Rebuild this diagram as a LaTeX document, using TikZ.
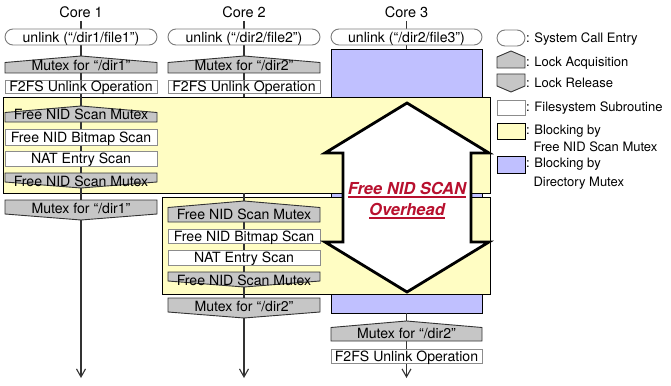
\documentclass[tikz,border=0pt]{standalone}
\usepackage{fontspec}
\setmainfont{TeX Gyre Heros}
\usetikzlibrary{arrows.meta}

\definecolor{lockgray}{HTML}{C6C6C6}
\definecolor{lockedge}{HTML}{333333}
\definecolor{fsedge}{HTML}{8C8C8C}
\definecolor{pilledge}{HTML}{7A7A7A}
\definecolor{blockyellow}{HTML}{FFFDC3}
\definecolor{blockblue}{HTML}{C0C0FF}
\definecolor{overred}{HTML}{B8102E}
\definecolor{flowline}{HTML}{333333}

\tikzset{
  pill/.style={draw=pilledge, fill=white, line width=0.9pt, rounded corners=8pt},
  lock/.style={draw=lockedge, fill=lockgray, line width=0.9pt, line join=miter},
  fsbox/.style={draw=fsedge, fill=white, line width=0.9pt},
  boxtext/.style={inner sep=0pt, outer sep=0pt, text height=10pt, text depth=0pt,
    font=\fontsize{14.1}{15}\selectfont},
  corelabel/.style={inner sep=0pt, outer sep=0pt, text height=10.4pt, text depth=0pt,
    font=\fontsize{14.5}{16}\selectfont},
  legtext/.style={inner sep=0pt, outer sep=0pt, text height=9.4pt, text depth=0pt,
    anchor=west, font=\fontsize{13}{15}\selectfont},
  region/.style={draw=black, line width=0.9pt, inner sep=0pt, outer sep=0pt, anchor=north west},
  flow/.style={draw=flowline, line width=1.1pt},
  flowend/.style={flow, -{Straight Barb[length=8pt,width=9pt,line width=1.1pt]}},
  bigarrow/.style={draw=black, fill=white, line width=2.8pt, line join=miter},
  redtext/.style={inner sep=0pt, outer sep=0pt, text height=11.8pt, text depth=0pt,
    text=overred, font=\fontsize{16.5}{18}\selectfont\bfseries\itshape},
  redrule/.style={draw=overred, line width=1.2pt},
}

% name, left, right, top, text  (height 16)
\newcommand\pillbox[5]{%
  \draw[pill] (#2,#4) rectangle (#3,#4+16);
  \node[boxtext] (#1) at ({(#2+#3)/2},#4+8.3) {#5};}
% name, left, right, peak, bottom, text
\newcommand\acqbox[6]{%
  \draw[lock] (#2,#4+6.5) -- ({(#2+#3)/2},#4) -- (#3,#4+6.5) -- (#3,#5) -- (#2,#5) -- cycle;
  \node[boxtext] (#1) at ({(#2+#3)/2},#5-7.2) {#6};}
% name, left, right, top, valley, text
\newcommand\relbox[6]{%
  \draw[lock] (#2,#4) -- (#3,#4) -- (#3,#5-6) -- ({(#2+#3)/2},#5) -- (#2,#5-6) -- cycle;
  \node[boxtext] (#1) at ({(#2+#3)/2},#4+8.2) {#6};}
% name, left, right, top, bottom, text
\newcommand\subbox[6]{%
  \draw[fsbox] (#2,#4) rectangle (#3,#5);
  \node[boxtext] (#1) at ({(#2+#3)/2},{(#4+#5)/2}) {#6};}

\begin{document}
\begin{tikzpicture}[x=1pt,y=-1pt]
\useasboundingbox (0,0) rectangle (671,385);

% blocking regions
\node[region, fill=blockblue, minimum width=151pt, minimum height=264pt] (b3) at (331,49) {};
\node[region, fill=blockyellow, minimum width=487pt, minimum height=96pt] (y1) at (3,97) {};
\node[region, fill=blockyellow, minimum width=328pt, minimum height=97pt] (y2) at (162,197) {};

% core headers and the flow of each core
\node[corelabel] (core1) at (81,12.7) {Core 1};
\node[corelabel] (core2) at (244,12.7) {Core 2};
\node[corelabel] (core3) at (406.5,12.7) {Core 3};
\coordinate (end1) at (81,378);
\coordinate (end2) at (244,378);
\coordinate (end3) at (406.5,378);

\draw[flowend, shorten <=3pt] (core1.south) -- (end1);
\draw[flow, shorten <=3pt] (core2.south) -- (y1.north -| core2);
\draw[flowend] (y1.south -| core2) -- (end2);
\draw[flow, shorten <=3pt] (core3.south) -- (b3.north -| core3);
\draw[flowend] (b3.south -| core3) -- (end3);

% core 1
\pillbox{c1call}{5}{157}{29}{unlink (“/dir1/file1”)}
\acqbox{c1lock}{5}{157}{56}{73}{Mutex for “/dir1”}
\subbox{c1op}{5}{157}{80}{93}{F2FS Unlink Operation}
\acqbox{c1nidlock}{5}{157}{106}{122}{Free NID Scan Mutex}
\subbox{c1bitmap}{5}{157}{129}{145}{Free NID Bitmap Scan}
\subbox{c1nat}{5}{157}{151}{166}{NAT Entry Scan}
\relbox{c1nidfree}{5}{157}{173}{188}{Free NID Scan Mutex}
\relbox{c1free}{5}{157}{200}{220}{Mutex for “/dir1”}

% core 2
\pillbox{c2call}{168}{320}{29}{unlink (“/dir2/file2”)}
\acqbox{c2lock}{168}{320}{56}{73}{Mutex for “/dir2”}
\subbox{c2op}{168}{320}{80}{93}{F2FS Unlink Operation}
\acqbox{c2nidlock}{168}{320}{201}{222}{Free NID Scan Mutex}
\subbox{c2bitmap}{168}{320}{229}{243}{Free NID Bitmap Scan}
\subbox{c2nat}{168}{320}{250}{265}{NAT Entry Scan}
\relbox{c2nidfree}{168}{320}{272}{287}{Free NID Scan Mutex}
\relbox{c2free}{168}{320}{298}{318}{Mutex for “/dir2”}

% core 3
\pillbox{c3call}{331}{482}{29}{unlink (“/dir2/file3”)}
\acqbox{c3lock}{331}{482}{321}{341}{Mutex for “/dir2”}
\subbox{c3op}{331}{482}{349}{363}{F2FS Unlink Operation}

% overhead arrow
\draw[bigarrow] (407,103) -- (489,153) -- (471,153) -- (471,242) -- (489,242)
  -- (407,292) -- (325,242) -- (343,242) -- (343,153) -- (325,153) -- cycle;
\node[redtext] (ovA) at (407,189) {Free NID SCAN};
\node[redtext] (ovB) at (407,210) {Overhead};
\draw[redrule] ([yshift=-2pt]ovA.south west) -- ([yshift=-2pt]ovA.south east);
\draw[redrule] ([yshift=-2pt]ovB.south west) -- ([yshift=-2pt]ovB.south east);

% legend
\draw[pill] (497,30) rectangle (525,46);
\draw[lock] (497,57) -- (511,51) -- (525,57) -- (525,68) -- (497,68) -- cycle;
\draw[lock] (497,74) -- (525,74) -- (525,86) -- (511,92) -- (497,86) -- cycle;
\draw[fsbox] (497,100) rectangle (525,115);
\draw[region, fill=blockyellow] (497,123) rectangle (525,139);
\draw[region, fill=blockblue] (497,156) rectangle (525,173);
\node[legtext] (lg1) at (526,38) {: System Call Entry};
\node[legtext] (lg2) at (526,62) {: Lock Acquisition};
\node[legtext] (lg3) at (526,83) {: Lock Release};
\node[legtext] (lg4) at (526,107) {: Filesystem Subroutine};
\node[legtext] (lg5) at (526,130) {: Blocking by};
\node[legtext] (lg5b) at (533.5,147) {Free NID Scan Mutex};
\node[legtext] (lg6) at (526,163) {: Blocking by};
\node[legtext] (lg6b) at (533.5,182) {Directory Mutex};
\end{tikzpicture}
\end{document}
